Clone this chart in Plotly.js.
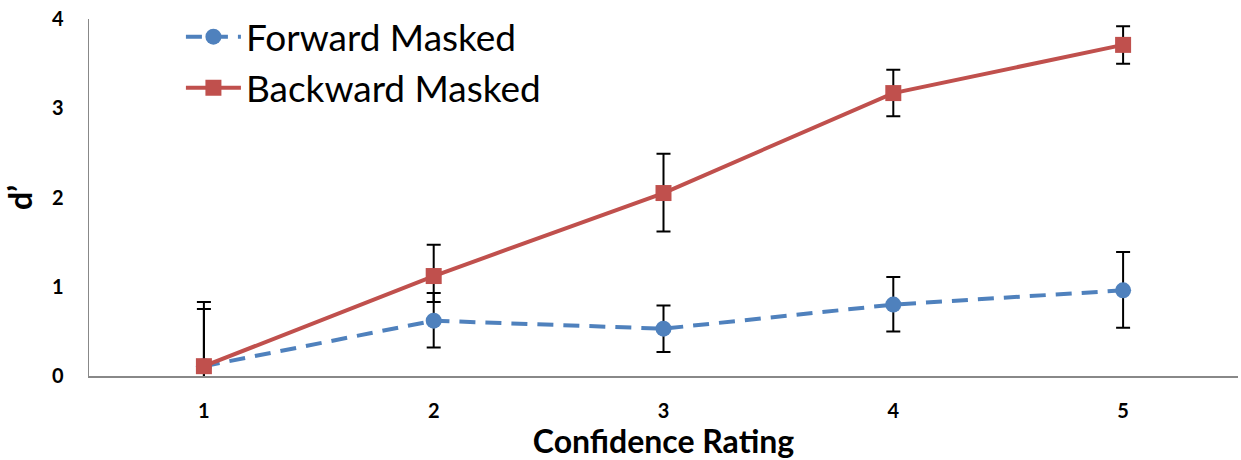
<!DOCTYPE html>
<html>
<head>
<meta charset="utf-8">
<script src="https://cdn.plot.ly/plotly-3.0.1.min.js"></script>
<style>html,body{margin:0;padding:0;background:#fff;}#chart{width:1241px;height:460px;}</style>
</head>
<body>
<div id="chart"></div>
<script>
const categories = [1, 2, 3, 4, 5];
const forwardValues = [0.11, 0.62, 0.53, 0.80, 0.96];
const forwardErrPlus = [0.64, 0.31, 0.26, 0.31, 0.43];
const forwardErrMinus = [0.64, 0.30, 0.26, 0.30, 0.42];
const backwardValues = [0.11, 1.12, 2.05, 3.17, 3.71];
const backwardErrPlus = [0.72, 0.35, 0.44, 0.26, 0.21];
const backwardErrMinus = [0.72, 0.29, 0.43, 0.26, 0.21];
const tickLabels = ['1', '2', '3', '4', '5'];

const errStyle = {color: '#000000', thickness: 2, width: 7};

const traces = [
  {
    x: categories, y: forwardValues, name: 'Forward Masked', type: 'scatter', mode: 'lines+markers',
    line: {color: '#4F81BD', width: 4, dash: '16px,10px'},
    marker: {color: '#4F81BD', size: 16, symbol: 'circle'},
    error_y: Object.assign({type: 'data', array: forwardErrPlus, arrayminus: forwardErrMinus, symmetric: false}, errStyle)
  },
  {
    x: categories, y: backwardValues, name: 'Backward Masked', type: 'scatter', mode: 'lines+markers',
    line: {color: '#C0504D', width: 4},
    marker: {color: '#C0504D', size: 16, symbol: 'square'},
    error_y: Object.assign({type: 'data', array: backwardErrPlus, arrayminus: backwardErrMinus, symmetric: false}, errStyle)
  }
];

const layout = {
  width: 1241, height: 460,
  margin: {l: 89, r: 3, t: 19, b: 84, autoexpand: false},
  paper_bgcolor: '#ffffff', plot_bgcolor: '#ffffff',
  showlegend: true,
  legend: {x: 0.08, y: 1.036, xanchor: 'left', yanchor: 'top', bgcolor: 'rgba(0,0,0,0)',
    font: {family: 'Lato, sans-serif', size: 37, color: '#000'}, itemwidth: 55, tracegroupgap: 6},
  xaxis: {
    range: [0.5, 5.5], tickmode: 'array', tickvals: categories, ticktext: tickLabels,
    showgrid: false, zeroline: false, showline: true, linecolor: '#888888', linewidth: 1.5,
    ticks: '', ticklabelstandoff: 16,
    tickfont: {family: 'Lato, sans-serif', size: 20, color: '#000', weight: 'bold'},
    title: {text: 'Confidence Rating', standoff: 6, font: {family: 'Lato, sans-serif', size: 32, color: '#000', weight: 'bold'}}
  },
  yaxis: {
    range: [0, 4], tickvals: [0, 1, 2, 3, 4], showgrid: false, zeroline: false,
    showline: true, linecolor: '#888888', linewidth: 1.5, ticks: '', ticklabelstandoff: 20,
    tickfont: {family: 'Lato, sans-serif', size: 20, color: '#000', weight: 'bold'},
    title: {text: 'd’', standoff: 12, font: {family: 'Lato, sans-serif', size: 32, color: '#000', weight: 'bold'}}
  }
};

Plotly.newPlot('chart', traces, layout, {displayModeBar: false, staticPlot: true});
</script>
</body>
</html>
